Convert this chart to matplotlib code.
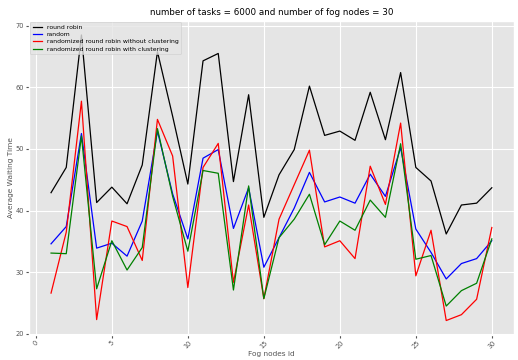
import matplotlib
matplotlib.use("Agg")
import matplotlib.pyplot as plt

plt.style.use("ggplot")

nodes = list(range(1, 31))
round_robin = [42.9, 47.0, 68.5, 41.3, 43.8, 41.1, 47.4, 65.8, 55.3, 44.3,
               64.3, 65.5, 44.7, 58.8, 38.9, 45.8, 49.9, 60.2, 52.2, 52.9,
               51.4, 59.2, 51.5, 62.4, 47.0, 44.8, 36.2, 40.9, 41.2, 43.7]
random_ = [34.6, 37.4, 52.5, 33.9, 34.7, 32.6, 38.3, 52.9, 42.7, 35.4,
           48.5, 49.9, 37.1, 43.7, 30.8, 35.6, 40.4, 46.2, 41.4, 42.2,
           41.2, 45.9, 42.3, 50.2, 37.0, 33.2, 28.9, 31.4, 32.2, 35.1]
rr_no_cluster = [26.6, 36.5, 57.75, 22.3, 38.3, 37.4, 31.9, 54.8, 48.85, 27.5,
                 47.0, 50.9, 28.35, 40.9, 25.7, 38.6, 44.2, 49.8, 34.1, 35.1,
                 32.2, 47.2, 41.0, 54.2, 29.4, 36.8, 22.15, 23.1, 25.6, 37.25]
rr_cluster = [33.1, 33.0, 52.1, 27.3, 35.1, 30.35, 34.0, 53.3, 42.3, 33.4,
              46.5, 46.05, 27.1, 44.0, 25.7, 35.6, 38.6, 42.65, 34.45, 38.3,
              36.8, 41.7, 38.9, 50.85, 32.1, 32.7, 24.5, 27.0, 28.2, 35.4]

fig = plt.figure(figsize=(5.18, 3.6), dpi=100)
ax = fig.add_axes([0.056, 0.070, 0.936, 0.8725])

lw = 0.9
ax.plot(nodes, round_robin, color="black", lw=lw, label="round robin")
ax.plot(nodes, random_, color="blue", lw=lw, label="random")
ax.plot(nodes, rr_no_cluster, color="red", lw=lw, label="randomized round robin without clustering")
ax.plot(nodes, rr_cluster, color="green", lw=lw, label="randomized round robin with clustering")

ax.set_xticks(range(0, 31, 5))
ax.set_yticks(range(20, 71, 10))
ax.tick_params(axis="both", labelsize=4.8, length=2, pad=1.5)
plt.setp(ax.get_xticklabels(), rotation=45)
ax.set_xlabel("Fog nodes id", fontsize=5.3, labelpad=1)
ax.set_ylabel("Average Waiting Time", fontsize=5.3, labelpad=1)
ax.set_title("number of tasks = 6000 and number of fog nodes = 30", fontsize=6.3, pad=4)

leg = ax.legend(loc="upper left", fontsize=4.4, borderaxespad=0.2, handlelength=1.5,
                labelspacing=0.35, borderpad=0.4, framealpha=0.8)

fig.savefig("out.png", dpi=100)
